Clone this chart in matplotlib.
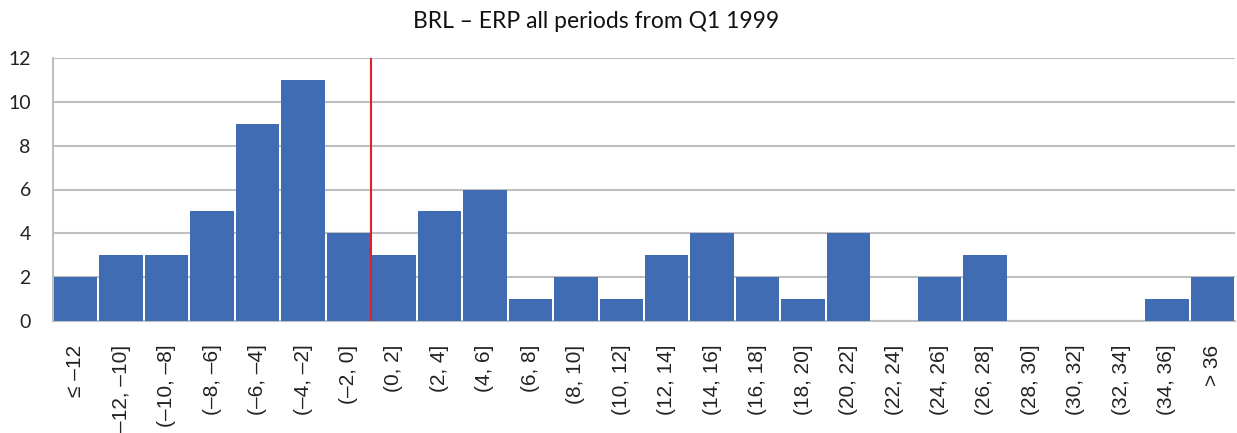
import numpy as np
import matplotlib
matplotlib.use("Agg")
import matplotlib.pyplot as plt

# --- Data: ERP distribution bins and counts ---
bins = ["≤ –12", "(–12, –10]", "(–10, –8]", "(–8, –6]", "(–6, –4]", "(–4, –2]",
        "(–2, 0]", "(0, 2]", "(2, 4]", "(4, 6]", "(6, 8]", "(8, 10]", "(10, 12]",
        "(12, 14]", "(14, 16]", "(16, 18]", "(18, 20]", "(20, 22]", "(22, 24]",
        "(24, 26]", "(26, 28]", "(28, 30]", "(30, 32]", "(32, 34]", "(34, 36]", "> 36"]
counts = [2, 3, 3, 5, 9, 11, 4, 3, 5, 6, 1, 2, 1, 3, 4, 2, 1, 4, 0, 2, 3, 0, 0, 0, 1, 2]
yticks = [0, 2, 4, 6, 8, 10, 12]
zero_split = 6.5  # between (-2, 0] and (0, 2]

BAR_COLOR = "#3F6CB3"
GRID_COLOR = "#BFBFBF"

fig = plt.figure(figsize=(12.37, 4.33), dpi=100)
ax = fig.add_axes([53 / 1237, 1 - 321 / 433, (1235 - 53) / 1237, (321 - 58) / 433])

x = np.arange(len(bins))
ax.bar(x, counts, width=0.955, color=BAR_COLOR, zorder=3)
ax.axvline(zero_split, color="#E0202A", lw=1.5, zorder=4)

ax.set_xlim(-0.5, len(bins) - 0.5)
ax.set_ylim(0, 12)
ax.set_yticks(yticks)
ax.yaxis.grid(True, color=GRID_COLOR, lw=1.5, zorder=0)
ax.set_axisbelow(True)

for side in ["top", "right"]:
    ax.spines[side].set_visible(False)
for side in ["left", "bottom"]:
    ax.spines[side].set_color(GRID_COLOR)
    ax.spines[side].set_linewidth(1.5)

ax.set_xticks(x)
ax.set_xticklabels(bins, rotation=90, fontsize=15, family=["Liberation Sans", "DejaVu Sans"],
                   color="#222222")
ax.tick_params(axis="x", length=0, pad=17)
ax.tick_params(axis="y", length=0, pad=16, labelsize=14, labelcolor="#222222")
for lbl in ax.get_yticklabels():
    lbl.set_family("Lato")

fig.text(596 / 1237, 1 - 21 / 433, "BRL – ERP all periods from Q1 1999",
         ha="center", va="center", fontsize=16.5, family="Lato", color="#111111")

fig.savefig("out.png", dpi=100)
